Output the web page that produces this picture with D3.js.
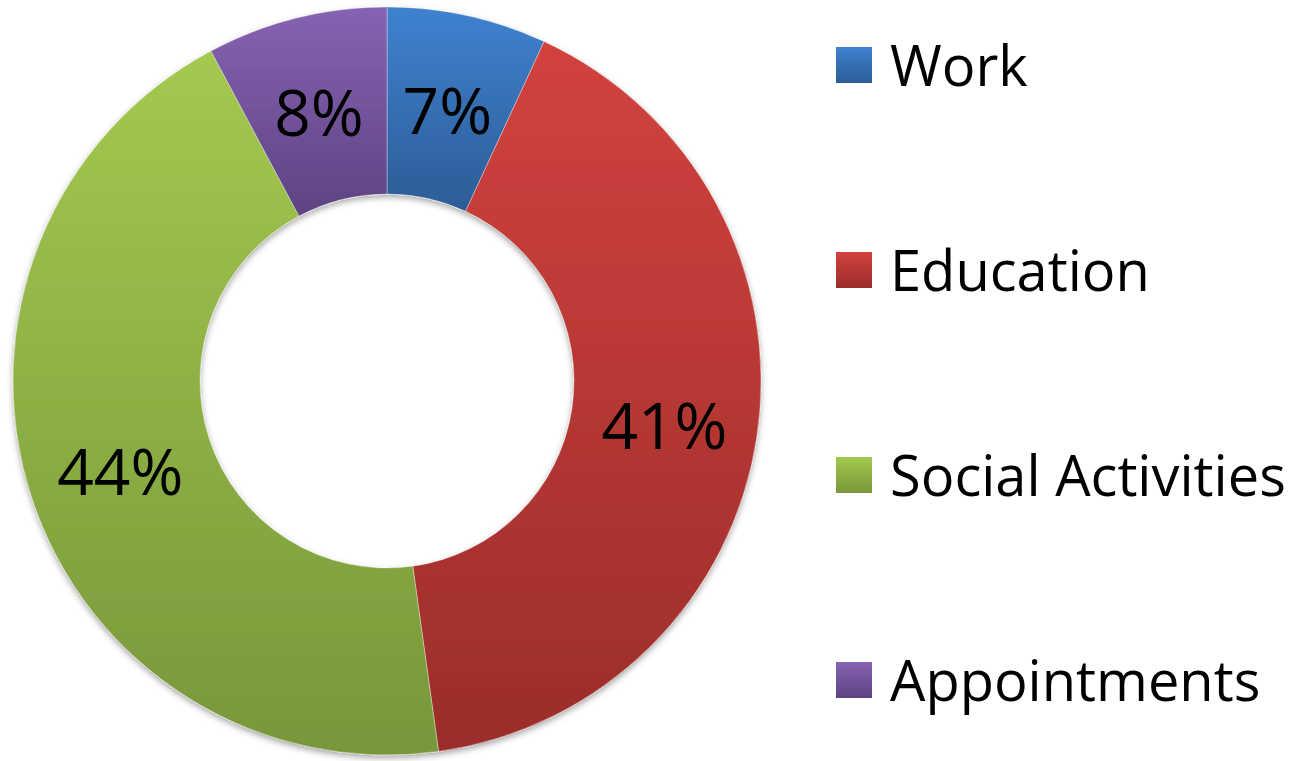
<!DOCTYPE html>
<html>
<head>
<meta charset="utf-8">
<script src="https://cdn.jsdelivr.net/npm/d3@7"></script>
<style>
  body { margin: 0; background: #fff; }
  text { font-family: "Open Sans", "Noto Sans", sans-serif; fill: #000; }
</style>
</head>
<body>
<div id="chart"></div>
<script>
const chart_width = 1301;
const chart_height = 761;

// data
const categories = ['Work', 'Education', 'Social Activities', 'Appointments'];
const values = [6.9, 40.9, 44.4, 7.8];

// top / bottom colours of each slice gradient
const colors_top = ['#3f82cf', '#d2423e', '#a3c950', '#8663b2'];
const colors_bottom = ['#2c5c96', '#9a2d2a', '#77973a', '#5e4382'];

const cx = 387;
const cy = 381;
const outer_r = 374;
const inner_r = 187;

const series = categories.map((c, i) => ({ name: c, value: values[i], i: i }));
const total = d3.sum(values);
const pct = d3.format('.0%');

const svg = d3.select('#chart')
    .append('svg')
    .attr('width', chart_width)
    .attr('height', chart_height);

const defs = svg.append('defs');

colors_top.forEach((c, i) => {
    const g = defs.append('linearGradient')
        .attr('id', 'grad' + i)
        .attr('x1', 0).attr('y1', 0)
        .attr('x2', 0).attr('y2', 1);
    g.append('stop').attr('offset', '0%').attr('stop-color', c);
    g.append('stop').attr('offset', '100%').attr('stop-color', colors_bottom[i]);
});

const shadow = defs.append('filter')
    .attr('id', 'shadow')
    .attr('x', '-10%').attr('y', '-10%')
    .attr('width', '120%').attr('height', '120%');
shadow.append('feDropShadow')
    .attr('dx', 0).attr('dy', 3)
    .attr('stdDeviation', 3)
    .attr('flood-color', '#000')
    .attr('flood-opacity', 0.35);

//--------------------------------------------------------------------
// donut
const pie = d3.pie()
    .sort(null)
    .value(d => d.value);

const arc = d3.arc()
    .innerRadius(inner_r)
    .outerRadius(outer_r);

const arcs = pie(series);

const g = svg.append('g')
    .attr('transform', 'translate(' + cx + ',' + cy + ')');

g.append('g')
    .attr('filter', 'url(#shadow)')
    .selectAll('path')
    .data(arcs)
    .enter()
    .append('path')
    .attr('d', arc)
    .attr('fill', d => 'url(#grad' + d.data.i + ')')
    .attr('stroke', 'rgba(255,255,255,0.35)')
    .attr('stroke-width', 1);

g.selectAll('text.label')
    .data(arcs)
    .enter()
    .append('text')
    .attr('class', 'label')
    .attr('x', d => arc.centroid(d)[0])
    .attr('y', d => arc.centroid(d)[1])
    .attr('text-anchor', 'middle')
    .attr('dy', '0.42em')
    .style('font-size', '64px')
    .text(d => pct(d.data.value / total));

//--------------------------------------------------------------------
// legend
const legend_y = d3.scalePoint()
    .domain(categories)
    .range([65, 680]);

const legend = svg.append('g').selectAll('g')
    .data(series)
    .enter()
    .append('g')
    .attr('transform', d => 'translate(836,' + legend_y(d.name) + ')');

legend.append('rect')
    .attr('x', 0)
    .attr('y', -18)
    .attr('width', 36)
    .attr('height', 36)
    .attr('fill', d => 'url(#grad' + d.i + ')');

legend.append('text')
    .attr('x', 54)
    .attr('y', 0)
    .attr('dy', '0.38em')
    .style('font-size', '56px')
    .text(d => d.name);
</script>
</body>
</html>
